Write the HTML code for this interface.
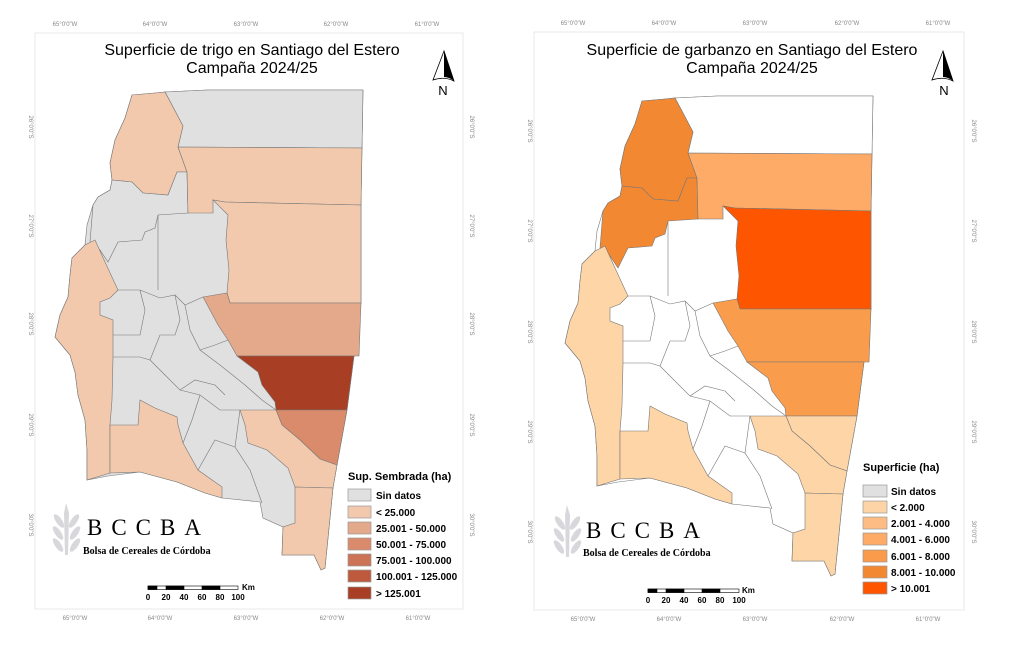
<!DOCTYPE html>
<html><head><meta charset="utf-8"><style>
html,body{margin:0;padding:0;background:#fff;}
svg{display:block;}
.t{font-family:"Liberation Sans",sans-serif;fill:#888;font-size:6px;}
.ti{font-family:"Liberation Sans",sans-serif;fill:#000;font-size:16px;}
.lg{font-family:"Liberation Sans",sans-serif;font-weight:bold;fill:#000;font-size:10px;}
.lt{font-family:"Liberation Sans",sans-serif;font-weight:bold;fill:#000;font-size:11px;}
.sc{font-family:"Liberation Sans",sans-serif;font-weight:bold;fill:#000;font-size:8px;}
.bc{font-family:"Liberation Serif",serif;fill:#000;font-size:23px;letter-spacing:9px;}
.bs{font-family:"Liberation Serif",serif;font-weight:bold;fill:#000;font-size:10px;}
.d{stroke:#777;stroke-width:0.6;fill:none;}
</style></head><body>
<svg width="1022" height="665" viewBox="0 0 1022 665" xmlns="http://www.w3.org/2000/svg">
<defs>
<polygon id="prov" points="132,95 155,93 165,92 207,90 363,90 362,148 361,205 361,303 354,356 347,410 337,465 333,488 325,568 321,570 314,555 282,555 283,527 263,518 260,502 222,498 205,493 177,482 140,472 108,476 87,480 87,450 85,420 78,395 75,372 70,355 55,337 60,315 68,297 70,275 72,258 85,245 87,225 93,205 98,197 110,190 112,180 110,163 115,140 125,118"/>
<polygon id="A" points="165,92 207,90 363,90 362,148 178,147 183,126 173,107"/>
<polygon id="B" points="132,95 155,93 165,92 173,107 183,126 178,147 187,172 177,172 168,195 143,193 132,182 112,180 110,163 115,140 125,118"/>
<polygon id="C" points="112,180 132,182 143,193 168,195 177,172 187,172 188,213 158,215 155,228 145,232 142,240 118,242 108,262 100,250 90,242 93,205 98,197 110,190"/>
<polygon id="D" points="178,147 362,148 361,205 225,202 213,200 213,213 188,213 187,172"/>
<polygon id="E" points="213,200 225,202 361,205 361,303 230,303 227,293 229,270 226,240 228,215"/>
<polygon id="G" points="203,297 227,293 230,303 361,303 359,356 237,356 228,340 218,325 210,310"/>
<polygon id="H" points="237,356 354,356 347,410 276,410 275,402 262,385 258,372"/>
<polygon id="I" points="276,410 347,410 337,465 320,459 300,440 282,425"/>
<polygon id="J" points="240,410 276,410 282,425 300,440 320,459 337,465 333,488 295,487 288,468 267,450 248,443 245,425"/>
<polygon id="K" points="295,487 333,488 325,568 321,570 314,555 282,555 283,527 295,523"/>
<polygon id="L" points="72,258 85,245 95,240 105,262 118,290 110,298 100,302 100,315 113,320 113,357 112,400 110,425 110,473 87,480 87,450 85,420 78,395 75,372 70,355 55,337 60,315 68,297 70,275"/>
<polygon id="M" points="110,425 138,425 140,400 155,408 177,417 178,425 183,443 198,470 222,487 222,498 205,493 177,482 140,472 110,473"/>
<g id="lines" class="d">
<polyline points="158,215 158,240 158,290"/>
<polyline points="118,290 140,290 160,298 175,295 185,305 203,297"/>
<polyline points="140,290 145,310 140,335 113,335"/>
<polyline points="175,295 180,320 175,335 160,335 150,360 140,357 113,357"/>
<polyline points="185,305 190,330 200,350 220,365 245,385 262,400 276,410"/>
<polyline points="150,360 165,375 180,390 200,395 220,410 240,410"/>
<polyline points="180,390 195,380 215,385 225,395"/>
<polyline points="200,395 192,420 183,443"/>
<polyline points="240,410 235,447 250,470 262,503"/>
<polyline points="235,447 215,440 198,470"/>
<polyline points="200,350 215,345 228,340"/>
</g>
</defs>

<rect x="35" y="33" width="428" height="576" fill="none" stroke="#e8e8e8" stroke-width="1"/>
<g stroke="#777" stroke-width="0.6">
<use href="#prov" fill="#e0e0e0"/>
<use href="#A" fill="#e0e0e0"/>
<use href="#B" fill="#f2c9ad"/>
<use href="#C" fill="#e0e0e0"/>
<use href="#D" fill="#f2c9ad"/>
<use href="#E" fill="#f2c9ad"/>
<use href="#G" fill="#e4a88a"/>
<use href="#H" fill="#a83f24"/>
<use href="#I" fill="#d98b6c"/>
<use href="#J" fill="#f2c9ad"/>
<use href="#K" fill="#f2c9ad"/>
<use href="#L" fill="#f2c9ad"/>
<use href="#M" fill="#f2c9ad"/>
</g>
<use href="#lines"/>

<rect x="534" y="32" width="430" height="578" fill="none" stroke="#e8e8e8" stroke-width="1"/>
<g transform="translate(510,6)">
<g stroke="#777" stroke-width="0.6">
<use href="#prov" fill="#fff"/>
<use href="#A" fill="#fff"/>
<use href="#B" fill="#f38832"/>
<use href="#C" fill="#f38832"/>
<use href="#D" fill="#fdab66"/>
<use href="#E" fill="#fe5500"/>
<use href="#G" fill="#f99d4d"/>
<use href="#H" fill="#f99d4d"/>
<use href="#I" fill="#fdd5a6"/>
<use href="#J" fill="#fdd5a6"/>
<use href="#K" fill="#fdd5a6"/>
<use href="#L" fill="#fdd5a6"/>
<use href="#M" fill="#fdd5a6"/>
</g>
<use href="#lines"/>
</g>

<g class="t" text-anchor="middle">
<text x="65" y="26">65°0'0"W</text><text x="155" y="26">64°0'0"W</text><text x="246" y="26">63°0'0"W</text><text x="336" y="26">62°0'0"W</text><text x="427" y="26">61°0'0"W</text>
<text x="75" y="620">65°0'0"W</text><text x="160" y="620">64°0'0"W</text><text x="246" y="620">63°0'0"W</text><text x="332" y="620">62°0'0"W</text><text x="418" y="620">61°0'0"W</text>
<text transform="translate(29,127) rotate(90)">26°0'0"S</text>
<text transform="translate(29,226) rotate(90)">27°0'0"S</text>
<text transform="translate(29,324) rotate(90)">28°0'0"S</text>
<text transform="translate(29,425) rotate(90)">29°0'0"S</text>
<text transform="translate(29,525) rotate(90)">30°0'0"S</text>
<text transform="translate(470,127) rotate(90)">26°0'0"S</text>
<text transform="translate(470,226) rotate(90)">27°0'0"S</text>
<text transform="translate(470,324) rotate(90)">28°0'0"S</text>
<text transform="translate(470,425) rotate(90)">29°0'0"S</text>
<text transform="translate(470,525) rotate(90)">30°0'0"S</text>
<text x="573" y="25">65°0'0"W</text><text x="664" y="25">64°0'0"W</text><text x="755" y="25">63°0'0"W</text><text x="847" y="25">62°0'0"W</text><text x="938" y="25">61°0'0"W</text>
<text x="583" y="621">65°0'0"W</text><text x="669" y="621">64°0'0"W</text><text x="755" y="621">63°0'0"W</text><text x="842" y="621">62°0'0"W</text><text x="928" y="621">61°0'0"W</text>
<text transform="translate(528,131) rotate(90)">26°0'0"S</text>
<text transform="translate(528,231) rotate(90)">27°0'0"S</text>
<text transform="translate(528,332) rotate(90)">28°0'0"S</text>
<text transform="translate(528,432) rotate(90)">29°0'0"S</text>
<text transform="translate(528,532) rotate(90)">30°0'0"S</text>
<text transform="translate(972,131) rotate(90)">26°0'0"S</text>
<text transform="translate(972,231) rotate(90)">27°0'0"S</text>
<text transform="translate(972,332) rotate(90)">28°0'0"S</text>
<text transform="translate(972,432) rotate(90)">29°0'0"S</text>
<text transform="translate(972,532) rotate(90)">30°0'0"S</text>
</g>

<g class="ti" text-anchor="middle">
<text x="252" y="55">Superficie de trigo en Santiago del Estero</text>
<text x="252" y="73">Campaña 2024/25</text>
<text x="752" y="55">Superficie de garbanzo en Santiago del Estero</text>
<text x="752" y="73">Campaña 2024/25</text>
</g>

<g fill="none" stroke="#000" stroke-width="0.8">
<path d="M444,51 L433,80 Q444,76 454,81 Z"/>
<path d="M943,51 L932,80 Q943,76 953,81 Z"/>
</g>
<path d="M444,51 L454,81 Q449,77 444,77 Z" fill="#000"/>
<path d="M943,51 L953,81 Q948,77 943,77 Z" fill="#000"/>
<g font-family="Liberation Sans,sans-serif" font-size="13" text-anchor="middle">
<text x="443" y="95">N</text><text x="944" y="95">N</text>
</g>

<text class="lt" x="348" y="480">Sup. Sembrada (ha)</text>
<g stroke="#999" stroke-width="0.7">
<rect x="348" y="489" width="23" height="12" fill="#e0e0e0"/>
<rect x="348" y="506" width="23" height="12" fill="#f2c9ad"/>
<rect x="348" y="522" width="23" height="12" fill="#e4a88a"/>
<rect x="348" y="538" width="23" height="12" fill="#d98b6c"/>
<rect x="348" y="554" width="23" height="12" fill="#cd7356"/>
<rect x="348" y="570" width="23" height="12" fill="#bd5a3d"/>
<rect x="348" y="587" width="23" height="12" fill="#a83f24"/>
</g>
<g class="lg">
<text x="376" y="499">Sin datos</text>
<text x="376" y="516">&lt; 25.000</text>
<text x="376" y="532">25.001 - 50.000</text>
<text x="376" y="548">50.001 - 75.000</text>
<text x="376" y="564">75.001 - 100.000</text>
<text x="376" y="580">100.001 - 125.000</text>
<text x="376" y="597">&gt; 125.001</text>
</g>

<text class="lt" x="863" y="471">Superficie (ha)</text>
<g stroke="#999" stroke-width="0.7">
<rect x="863" y="485" width="24" height="12" fill="#e0e0e0"/>
<rect x="863" y="501" width="24" height="12" fill="#fdd4a6"/>
<rect x="863" y="517" width="24" height="12" fill="#fdbc84"/>
<rect x="863" y="533" width="24" height="12" fill="#fdab66"/>
<rect x="863" y="550" width="24" height="12" fill="#f99b4a"/>
<rect x="863" y="566" width="24" height="12" fill="#f38832"/>
<rect x="863" y="582" width="24" height="12" fill="#fd5500"/>
</g>
<g class="lg">
<text x="891" y="495">Sin datos</text>
<text x="891" y="511">&lt; 2.000</text>
<text x="891" y="527">2.001 - 4.000</text>
<text x="891" y="543">4.001 - 6.000</text>
<text x="891" y="560">6.001 - 8.000</text>
<text x="891" y="576">8.001 - 10.000</text>
<text x="891" y="592">&gt; 10.001</text>
</g>

<g stroke="#000" stroke-width="0.6">
<rect x="148" y="586" width="90" height="3.5" fill="#fff"/>
<rect x="148" y="586" width="9" height="3.5" fill="#000"/>
<rect x="166" y="586" width="18" height="3.5" fill="#000"/>
<rect x="202" y="586" width="18" height="3.5" fill="#000"/>
<rect x="648" y="589" width="91" height="3.5" fill="#fff"/>
<rect x="648" y="589" width="9" height="3.5" fill="#000"/>
<rect x="666" y="589" width="18" height="3.5" fill="#000"/>
<rect x="702" y="589" width="18" height="3.5" fill="#000"/>
</g>
<g class="sc" text-anchor="middle">
<text x="148" y="600">0</text><text x="166" y="600">20</text><text x="184" y="600">40</text><text x="202" y="600">60</text><text x="220" y="600">80</text><text x="238" y="600">100</text>
<text x="648" y="603">0</text><text x="666" y="603">20</text><text x="684" y="603">40</text><text x="702" y="603">60</text><text x="720" y="603">80</text><text x="739" y="603">100</text>
</g>
<text class="sc" x="242" y="590">Km</text>
<text class="sc" x="742" y="593">Km</text>

<g fill="#d8d8dc">
<g transform="translate(66,503)">
<path d="M0,0 L3,10 L2,52 L-1,52 L-2,10 Z"/>
<ellipse cx="-7" cy="18" rx="3" ry="8" transform="rotate(-35 -7 18)"/>
<ellipse cx="8" cy="18" rx="3" ry="8" transform="rotate(35 8 18)"/>
<ellipse cx="-8" cy="30" rx="3" ry="8" transform="rotate(-35 -8 30)"/>
<ellipse cx="9" cy="30" rx="3" ry="8" transform="rotate(35 9 30)"/>
<ellipse cx="-8" cy="42" rx="3" ry="8" transform="rotate(-35 -8 42)"/>
<ellipse cx="9" cy="42" rx="3" ry="8" transform="rotate(35 9 42)"/>
</g>
<g transform="translate(567,505)">
<path d="M0,0 L3,10 L2,52 L-1,52 L-2,10 Z"/>
<ellipse cx="-7" cy="18" rx="3" ry="8" transform="rotate(-35 -7 18)"/>
<ellipse cx="8" cy="18" rx="3" ry="8" transform="rotate(35 8 18)"/>
<ellipse cx="-8" cy="30" rx="3" ry="8" transform="rotate(-35 -8 30)"/>
<ellipse cx="9" cy="30" rx="3" ry="8" transform="rotate(35 9 30)"/>
<ellipse cx="-8" cy="42" rx="3" ry="8" transform="rotate(-35 -8 42)"/>
<ellipse cx="9" cy="42" rx="3" ry="8" transform="rotate(35 9 42)"/>
</g>
</g>
<text class="bc" x="87" y="535">BCCBA</text>
<text class="bs" x="83" y="554">Bolsa de Cereales de Córdoba</text>
<text class="bc" x="586" y="538">BCCBA</text>
<text class="bs" x="583" y="556">Bolsa de Cereales de Córdoba</text>
</svg>
</body></html>
